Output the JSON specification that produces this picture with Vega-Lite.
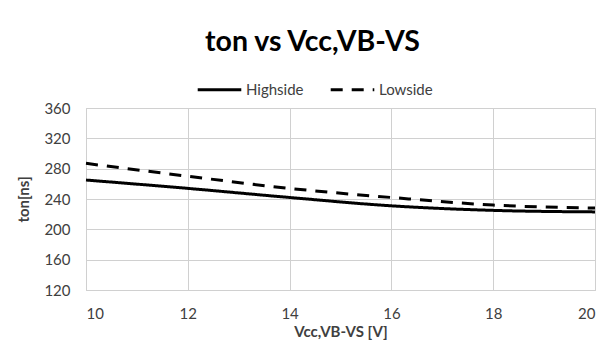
{
  "$schema": "https://vega.github.io/schema/vega-lite/v6.json",
  "width": 509,
  "height": 182,
  "autosize": {"type": "none"},
  "padding": {"left": 86, "top": 108, "right": 17, "bottom": 70},
  "background": "white",
  "title": {
    "text": "ton vs Vcc,VB-VS",
    "font": "Lato",
    "fontSize": 28.5,
    "fontWeight": "bold",
    "color": "#000000",
    "anchor": "middle",
    "frame": "group",
    "dx": -28,
    "offset": 10
  },
  "data": {
    "values": [
      {"v": 10, "ton": 265, "series": "Highside"},
      {"v": 12, "ton": 254, "series": "Highside"},
      {"v": 14, "ton": 242, "series": "Highside"},
      {"v": 16, "ton": 231, "series": "Highside"},
      {"v": 18, "ton": 225, "series": "Highside"},
      {"v": 20, "ton": 223, "series": "Highside"},
      {"v": 10, "ton": 287, "series": "Lowside"},
      {"v": 12, "ton": 270, "series": "Lowside"},
      {"v": 14, "ton": 254, "series": "Lowside"},
      {"v": 16, "ton": 242, "series": "Lowside"},
      {"v": 18, "ton": 232, "series": "Lowside"},
      {"v": 20, "ton": 228, "series": "Lowside"}
    ]
  },
  "mark": {"type": "line", "interpolate": "monotone", "strokeWidth": 3, "color": "black", "strokeCap": "butt"},
  "encoding": {
    "x": {
      "field": "v",
      "type": "quantitative",
      "scale": {"domain": [10, 20], "nice": false},
      "axis": {"values": [10, 12, 14, 16, 18, 20], "title": "Vcc,VB-VS [V]", "titlePadding": 3, "labelPadding": 16}
    },
    "y": {
      "field": "ton",
      "type": "quantitative",
      "scale": {"domain": [120, 360], "nice": false, "zero": false},
      "axis": {"values": [120, 160, 200, 240, 280, 320, 360], "title": "ton[ns]", "titlePadding": 12}
    },
    "strokeDash": {
      "field": "series",
      "type": "nominal",
      "scale": {"domain": ["Highside", "Lowside"], "range": [[1, 0], [12, 9]]},
      "legend": {
        "title": null,
        "orient": "none",
        "direction": "horizontal",
        "legendX": 110,
        "legendY": -42,
        "symbolType": "stroke",
        "symbolSize": 1900,
        "symbolStrokeWidth": 3,
        "symbolStrokeColor": "black",
        "labelFont": "Lato",
        "labelFontSize": 15,
        "labelColor": "#404040",
        "labelOffset": 3,
        "columnPadding": 20
      }
    }
  },
  "config": {
    "view": {"stroke": "#d0d0d0", "strokeWidth": 1},
    "axis": {
      "gridColor": "#d0d0d0",
      "gridWidth": 1,
      "domainColor": "#d0d0d0",
      "tickSize": 0,
      "labelFont": "Lato",
      "labelFontSize": 15,
      "labelColor": "#404040",
      "titleFont": "Lato",
      "titleFontSize": 15,
      "titleFontWeight": "bold",
      "titleColor": "#404040"
    },
    "axisY": {"labelPadding": 16}
  }
}
